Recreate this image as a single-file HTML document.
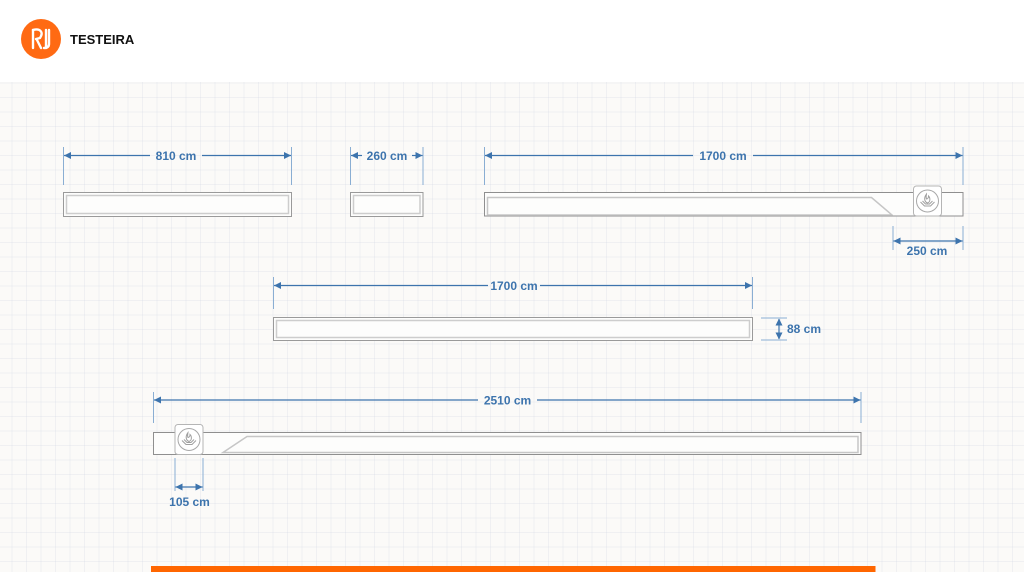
<!DOCTYPE html>
<html><head><meta charset="utf-8"><style>
html,body{margin:0;padding:0;width:1024px;height:572px;overflow:hidden;background:#fff;}
#bg{position:absolute;left:0;top:82px;width:1024px;height:490px;background-color:#fbfaf8;
background-image:
linear-gradient(to right, rgba(210,216,228,0.28) 1px, transparent 1px),
linear-gradient(to bottom, rgba(210,216,228,0.28) 1px, transparent 1px);
background-size:14.5px 14.5px;background-position:11.5px 0.5px;}
svg{position:absolute;left:0;top:0;}
text{font-family:"Liberation Sans",sans-serif;font-weight:bold;}
</style></head><body>
<div id="bg"></div>
<svg width="1024" height="572" viewBox="0 0 1024 572" xmlns="http://www.w3.org/2000/svg">
<defs>
<g id="flame">
<rect x="-14" y="-15" width="28" height="30" rx="3" fill="#fff" stroke="#b5b5b5" stroke-width="1"/>
<circle cx="0" cy="0" r="11" fill="#fff" stroke="#a8a8a8" stroke-width="1"/>
<path d="M-7 1 L-3 5 L3 5 L7 1 M-5 0 L-2 3 L2 3 L5 0 M-1 -7 C-4 -3 -3 1 0 2 C3 1 3 -3 1 -5 C1 -3 0 -2 -1 -2 C-2 -4 -1 -6 -1 -7 Z" fill="none" stroke="#a0a0a0" stroke-width="1"/>
</g>
</defs>

<!-- header -->
<circle cx="41" cy="39" r="20" fill="#ff6a13"/>
<g stroke="#fff" stroke-width="2.4" fill="none" stroke-linecap="round">
<path d="M33 30 L33 48"/>
<path d="M33 30 C40 28 44 32 40 38 L36 39"/>
<path d="M37 40 L41 48"/>
<path d="M46 30 L46 48"/>
<path d="M49 30 L49 44 C49 47 47 48 44 48"/>
</g>
<text x="70" y="44" font-size="13" fill="#111">TESTEIRA</text>

<!-- dimension style -->
<g stroke="#8aaed3" stroke-width="1">
<line x1="63.5" y1="147" x2="63.5" y2="185"/><line x1="291.5" y1="147" x2="291.5" y2="185"/>
<line x1="350.5" y1="147" x2="350.5" y2="185"/><line x1="423" y1="147" x2="423" y2="185"/>
<line x1="484.5" y1="147" x2="484.5" y2="185"/><line x1="963" y1="147" x2="963" y2="185"/>
<line x1="893" y1="226" x2="893" y2="250"/><line x1="963" y1="226" x2="963" y2="250"/>
<line x1="273.5" y1="277" x2="273.5" y2="309"/><line x1="752.5" y1="277" x2="752.5" y2="309"/>
<line x1="153.5" y1="392" x2="153.5" y2="423"/><line x1="861" y1="392" x2="861" y2="423"/>
<line x1="175" y1="458" x2="175" y2="491"/><line x1="203" y1="458" x2="203" y2="491"/>
<line x1="761" y1="318" x2="787" y2="318"/><line x1="761" y1="340" x2="787" y2="340"/>
</g>
<g stroke="#3d74ad" stroke-width="1.2">
<line x1="64" y1="155.5" x2="150" y2="155.5"/><line x1="202" y1="155.5" x2="291" y2="155.5"/>
<line x1="351" y1="155.5" x2="362" y2="155.5"/><line x1="412" y1="155.5" x2="422.5" y2="155.5"/>
<line x1="485" y1="155.5" x2="693" y2="155.5"/><line x1="753" y1="155.5" x2="962.5" y2="155.5"/>
<line x1="893.5" y1="241" x2="962.5" y2="241"/>
<line x1="274" y1="285.5" x2="488" y2="285.5"/><line x1="540" y1="285.5" x2="752" y2="285.5"/>
<line x1="154" y1="400" x2="478" y2="400"/><line x1="537" y1="400" x2="860.5" y2="400"/>
<line x1="175.5" y1="487" x2="202.5" y2="487"/>
<line x1="779" y1="319" x2="779" y2="339"/>
</g>
<g fill="#3d74ad">
<polygon points="64,155.5 71,152 71,159"/><polygon points="291,155.5 284,152 284,159"/>
<polygon points="351,155.5 358,152 358,159"/><polygon points="422.5,155.5 415.5,152 415.5,159"/>
<polygon points="485,155.5 492,152 492,159"/><polygon points="962.5,155.5 955.5,152 955.5,159"/>
<polygon points="893.5,241 900.5,237.5 900.5,244.5"/><polygon points="962.5,241 955.5,237.5 955.5,244.5"/>
<polygon points="274,285.5 281,282 281,289"/><polygon points="752,285.5 745,282 745,289"/>
<polygon points="154,400 161,396.5 161,403.5"/><polygon points="860.5,400 853.5,396.5 853.5,403.5"/>
<polygon points="175.5,487 182.5,483.5 182.5,490.5"/><polygon points="202.5,487 195.5,483.5 195.5,490.5"/>
<polygon points="779,318.5 775.5,325.5 782.5,325.5"/><polygon points="779,339.5 775.5,332.5 782.5,332.5"/>
</g>
<g fill="#3d74ad" font-size="12" text-anchor="middle">
<text x="176" y="160">810 cm</text>
<text x="387" y="160">260 cm</text>
<text x="723" y="160">1700 cm</text>
<text x="927" y="255">250 cm</text>
<text x="514" y="290">1700 cm</text>
<text x="507.5" y="404.5">2510 cm</text>
<text x="189.5" y="506">105 cm</text>
<text x="804" y="333">88 cm</text>
</g>

<!-- shapes -->
<g fill="#fdfdfc">
<rect x="63.5" y="192.5" width="228" height="24" stroke="#9a9a9a" stroke-width="1"/>
<rect x="66.5" y="195.5" width="222" height="18" stroke="#cdcdcd" stroke-width="1.5"/>
<rect x="350.5" y="192.5" width="72.5" height="24" stroke="#9a9a9a" stroke-width="1"/>
<rect x="353.5" y="195.5" width="66.5" height="18" stroke="#cdcdcd" stroke-width="1.5"/>

<rect x="484.5" y="192.5" width="478.5" height="23.5" stroke="#8f8f8f" stroke-width="1"/>
<polygon points="487.5,197.5 871.5,197.5 892,215 487.5,215" stroke="#c6c6c6" stroke-width="1.5"/>

<rect x="273.5" y="317.5" width="479" height="23" stroke="#9a9a9a" stroke-width="1"/>
<rect x="276.5" y="320.5" width="473" height="17" stroke="#cdcdcd" stroke-width="1.5"/>

<rect x="153.5" y="432.5" width="707.5" height="22" stroke="#8f8f8f" stroke-width="1"/>
<polygon points="247,436.5 858,436.5 858,452.5 223,452.5" stroke="#c6c6c6" stroke-width="1.5"/>
</g>
<use href="#flame" x="927.5" y="201"/>
<use href="#flame" x="189" y="439.5"/>

<!-- orange bar -->
<rect x="151" y="566" width="724.5" height="6" fill="#ff6600"/>
</svg>
</body></html>
